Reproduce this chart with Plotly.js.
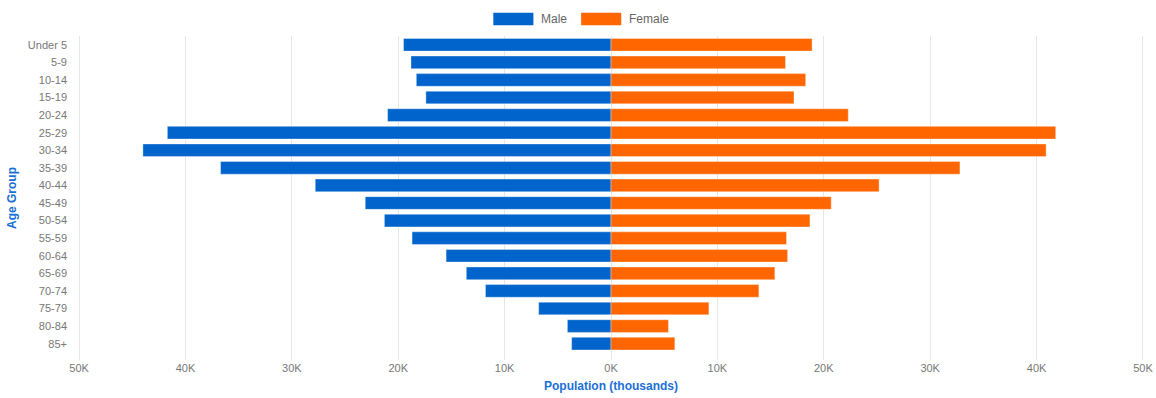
<!DOCTYPE html>
<html>
<head>
<meta charset="utf-8">
<script src="https://cdn.plot.ly/plotly-3.0.1.min.js"></script>
<style>
  html, body { margin: 0; padding: 0; background: #ffffff; }
  #chart { width: 1156px; height: 398px; }
</style>
</head>
<body>
<div id="chart"></div>
<script>
// Population pyramid: age groups by sex (thousands)
const ageGroups = ["Under 5", "5-9", "10-14", "15-19", "20-24", "25-29", "30-34", "35-39",
  "40-44", "45-49", "50-54", "55-59", "60-64", "65-69", "70-74", "75-79", "80-84", "85+"];

const malePop = [19.5, 18.8, 18.3, 17.4, 21.0, 41.7, 44.0, 36.7, 27.8, 23.1, 21.3, 18.7,
  15.5, 13.6, 11.8, 6.8, 4.1, 3.7];

const femalePop = [18.9, 16.4, 18.3, 17.2, 22.3, 41.8, 40.9, 32.8, 25.2, 20.7, 18.7, 16.5,
  16.6, 15.4, 13.9, 9.2, 5.4, 6.0];

const tickValues = [-50, -40, -30, -20, -10, 0, 10, 20, 30, 40, 50];
const tickLabels = ["50K", "40K", "30K", "20K", "10K", "0K", "10K", "20K", "30K", "40K", "50K"];

const seriesNames = ["Male", "Female"];
const seriesColors = ["#0064CC", "#FF6600"];

const maleTrace = {
  type: "bar",
  orientation: "h",
  name: seriesNames[0],
  y: ageGroups,
  x: malePop.map(v => -v),
  marker: { color: seriesColors[0], line: { color: "rgba(255,255,255,0.6)", width: 0.6 } },
  hovertemplate: "%{y}: %{customdata}K<extra>Male</extra>",
  customdata: malePop
};

const femaleTrace = {
  type: "bar",
  orientation: "h",
  name: seriesNames[1],
  y: ageGroups,
  x: femalePop,
  marker: { color: seriesColors[1], line: { color: "rgba(255,255,255,0.6)", width: 0.6 } },
  hovertemplate: "%{y}: %{x}K<extra>Female</extra>"
};

// Custom legend: wide swatches centred above the plot
const legendShapes = [
  { type: "rect", xref: "paper", yref: "paper", x0: 0.3896, x1: 0.4272, y0: 1.0335, y1: 1.072,
    fillcolor: seriesColors[0], line: { width: 0 } },
  { type: "rect", xref: "paper", yref: "paper", x0: 0.4720, x1: 0.5096, y0: 1.0335, y1: 1.072,
    fillcolor: seriesColors[1], line: { width: 0 } }
];
const legendLabels = [
  { xref: "paper", yref: "paper", x: 0.4327, y: 1.053, text: seriesNames[0], showarrow: false,
    xanchor: "left", yanchor: "middle", font: { family: "Liberation Sans, Arial, sans-serif", size: 12, color: "#666666" } },
  { xref: "paper", yref: "paper", x: 0.5151, y: 1.053, text: seriesNames[1], showarrow: false,
    xanchor: "left", yanchor: "middle", font: { family: "Liberation Sans, Arial, sans-serif", size: 12, color: "#666666" } }
];

const layout = {
  width: 1156,
  height: 398,
  barmode: "overlay",
  bargap: 0.28,
  showlegend: false,
  paper_bgcolor: "#ffffff",
  plot_bgcolor: "#ffffff",
  margin: { l: 78.4, r: 12.4, t: 36, b: 38 },
  font: { family: "Liberation Sans, Arial, sans-serif", size: 11, color: "#777777" },
  xaxis: {
    range: [-50.1, 50.1],
    tickmode: "array",
    tickvals: tickValues,
    ticktext: tickLabels,
    showgrid: true,
    gridcolor: "#e6e6e6",
    gridwidth: 1,
    zeroline: false,
    showline: false,
    ticks: "",
    tickfont: { size: 11, color: "#777777" },
    title: {
      text: "Population (thousands)",
      font: { size: 12, color: "#1a6fd6", weight: "bold" },
      standoff: 8
    }
  },
  yaxis: {
    type: "category",
    range: [17.93, -0.5],
    showgrid: false,
    zeroline: false,
    showline: false,
    ticks: "",
    ticklabelstandoff: 10,
    tickfont: { size: 11, color: "#777777" },
    title: {
      text: "Age Group",
      font: { size: 12, color: "#1a6fd6", weight: "bold" },
      standoff: 8
    }
  },
  shapes: legendShapes,
  annotations: legendLabels
};

Plotly.newPlot("chart", [maleTrace, femaleTrace], layout, { displayModeBar: false, staticPlot: true });
</script>
</body>
</html>
